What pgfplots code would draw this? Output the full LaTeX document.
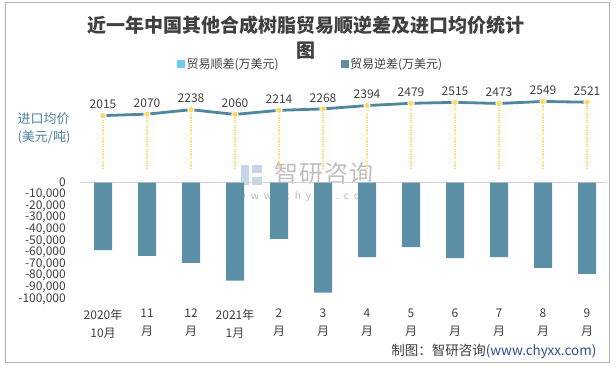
\documentclass[border=0pt]{standalone}
\usepackage{pgfplots}
\pgfplotsset{compat=1.18}
\usepackage{fontspec}
\setmainfont{Noto Sans CJK SC}
\definecolor{barc}{HTML}{5B8FA6}
\definecolor{linec}{HTML}{4F86A0}
\definecolor{ptc}{HTML}{FFD966}
\definecolor{lightb}{HTML}{6FCBF2}
\definecolor{txt}{HTML}{404040}
\definecolor{ylab}{HTML}{4F81A0}
\definecolor{srcblue}{HTML}{2B4F8F}
\definecolor{logoc}{HTML}{B8CCE4}
\begin{document}
\begin{tikzpicture}[x=1pt,y=1pt]
\useasboundingbox (0,0) rectangle (616,368);
\fill[white] (0,0) rectangle (616,368);
\draw[gray!60, line width=1pt] (5,5.3) rectangle (609.3,365.3);
\node[font=\fontsize{19}{25}\selectfont\bfseries, text=txt, align=center] at (306,330.5) {近一年中国其他合成树脂贸易顺逆差及进口均价统计\\图};
% watermark
\node[font=\fontsize{24}{26}\selectfont, text=gray, opacity=0.5] at (324,195) {智\kern1pt 研\kern1pt 咨\kern1pt 询};
\node[font=\fontsize{10}{12}\selectfont, text=gray, opacity=0.55] at (306,171) {w\,\,\,w\,\,\,w\,\,\,.\,\,\,c\,\,\,h\,\,\,y\,\,\,x\,\,\,x\,\,\,.\,\,\,c\,\,\,o\,\,\,m};
\fill[logoc, opacity=0.8] (241,183) rectangle (249,203);
\fill[logoc, opacity=0.8] (252,183) rectangle (262,191);
\fill[logoc, opacity=0.8] (252,195) rectangle (262,203);
\node[anchor=west, align=left, font=\fontsize{13}{18}\selectfont, text=ylab] at (14,240) {进口均价\\(美元/吨)};
\begin{axis}[at={(81pt,69pt)}, anchor=south west, scale only axis,
  width=528pt, height=116.3pt,
  xmin=-0.5, xmax=11.5, ymin=-100000, ymax=0,
  scaled y ticks=false,
  axis line style={draw=none}, tick style={draw=none},
  clip=false,
  ytick={0,-10000,-20000,-30000,-40000,-50000,-60000,-70000,-80000,-90000,-100000},
  yticklabels={{0},{-10,000},{-20,000},{-30,000},{-40,000},{-50,000},{-60,000},{-70,000},{-80,000},{-90,000},{-100,000}},
  yticklabel style={anchor=east, inner sep=0pt, xshift=-15pt, font=\fontsize{12}{14}\selectfont, text=txt},
  xtick={0,1,2,3,4,5,6,7,8,9,10,11},
  xticklabels={{2020年\\10月},{11\\月},{12\\月},{2021年\\1月},{2\\月},{3\\月},{4\\月},{5\\月},{6\\月},{7\\月},{8\\月},{9\\月}},
  xticklabel style={align=center, anchor=north, inner sep=0pt, yshift=-10pt, font=\fontsize{12}{17.7}\selectfont, text=txt},
  legend style={draw=none, fill=none, at={(0.176,2.02)}, anchor=west, legend columns=2,
    font=\fontsize{12}{14}\selectfont, text=txt,
    /tikz/every even column/.append style={column sep=60pt}},
  legend cell align=left,
]
\addlegendimage{legend image code/.code={\fill[lightb] (0pt,-3.5pt) rectangle (7pt,3.5pt);}}
\addlegendentry{贸易顺差(万美元)}
\addlegendimage{legend image code/.code={\fill[barc] (0pt,-3.5pt) rectangle (7pt,3.5pt);}}
\addlegendentry{贸易逆差(万美元)}
\draw[gray!35, line width=0.8pt] (axis cs:-0.52,0) -- (axis cs:11.45,0);
\addplot[ybar, bar width=18pt, fill=barc, draw=none, forget plot] coordinates {
(0,-57900) (1,-63000) (2,-69000) (3,-84300) (4,-48400) (5,-94600)
(6,-63900) (7,-55300) (8,-64800) (9,-63900) (10,-73300) (11,-78500)};
\end{axis}
\begin{axis}[at={(81pt,199pt)}, anchor=south west, scale only axis,
  width=528pt, height=79.5pt,
  xmin=-0.5, xmax=11.5, ymin=0, ymax=3000,
  hide axis, clip=false]
\addplot[ycomb, draw=ptc, line width=1.3pt, dash pattern=on 1.3pt off 1.1pt] coordinates {
(0,2015) (1,2070) (2,2238) (3,2060) (4,2214) (5,2268)
(6,2394) (7,2479) (8,2515) (9,2473) (10,2549) (11,2521)};
\addplot[linec, line width=2.8pt, mark=*, mark size=3.2pt,
  mark options={fill=ptc, draw=white, line width=0.8pt},
  nodes near coords,
  nodes near coords style={font=\fontsize{12}{14}\selectfont, text=txt, anchor=south, yshift=3pt,
    /pgf/number format/assume math mode=true, /pgf/number format/1000 sep={}},
  ] coordinates {
(0,2015) (1,2070) (2,2238) (3,2060) (4,2214) (5,2268)
(6,2394) (7,2479) (8,2515) (9,2473) (10,2549) (11,2521)};
\end{axis}
\node[anchor=east, font=\fontsize{13.5}{16}\selectfont, text=txt] at (600,17) {制图：智研咨询\textcolor{srcblue}{(www.chyxx.com)}};
\end{tikzpicture}
\end{document}
